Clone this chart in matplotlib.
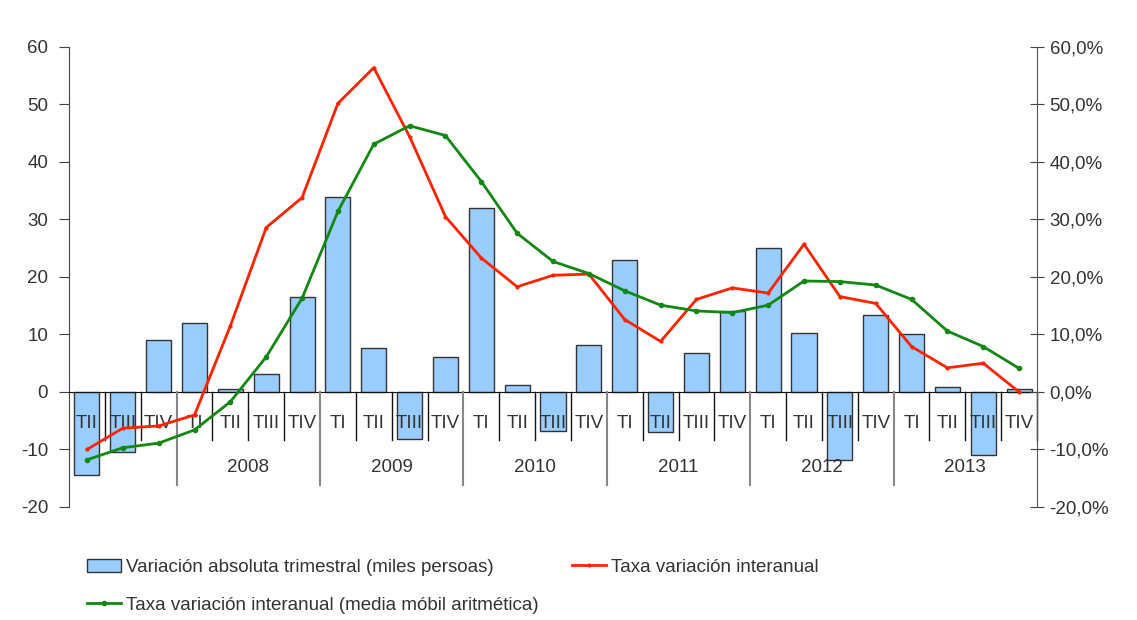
import matplotlib
matplotlib.use('Agg')
import matplotlib.pyplot as plt
from matplotlib.ticker import FuncFormatter

quarters = ['TII', 'TIII', 'TIV'] + ['TI', 'TII', 'TIII', 'TIV'] * 6
years = ['2008', '2009', '2010', '2011', '2012', '2013']

abs_var = [-14.5, -10.4, 9.0, 12.0, 0.6, 3.1, 16.5,
           33.9, 7.6, -8.2, 6.1,
           32.0, 1.2, -6.7, 8.1,
           23.0, -7.0, 6.7, 14.0,
           25.0, 10.3, -11.8, 13.4,
           10.0, 0.9, -11.0, 0.5]

taxa = [-10.0, -6.3, -5.9, -4.0, 11.5, 28.6, 33.8,
        50.2, 56.4, 44.4, 30.5,
        23.3, 18.3, 20.3, 20.5,
        12.6, 8.8, 16.1, 18.1,
        17.2, 25.7, 16.6, 15.4,
        7.9, 4.2, 5.0, 0.0]

taxa_media = [-11.8, -9.7, -8.9, -6.6, -1.7, 6.1, 16.3,
              31.4, 43.1, 46.3, 44.6,
              36.6, 27.6, 22.7, 20.6,
              17.6, 15.1, 14.1, 13.8,
              15.1, 19.3, 19.2, 18.6,
              16.1, 10.6, 7.9, 4.1]

plt.rcParams['font.family'] = ['Liberation Sans', 'DejaVu Sans']
plt.rcParams['axes.unicode_minus'] = False
txt = '#333333'
fs = 13.5

fig = plt.figure(figsize=(11.37, 6.2), dpi=100)
ax = fig.add_axes([0.0607, 0.1823, 0.8514, 0.7419])
ax2 = ax.twinx()

x = list(range(len(quarters)))
bars = ax.bar(x, abs_var, width=0.7, color='#99CCFF', edgecolor='#333333', linewidth=1.0, zorder=2)

l1, = ax2.plot(x, taxa, color='#FF2200', lw=2.0, marker='o', ms=2, zorder=3)
l2, = ax2.plot(x, taxa_media, color='#118811', lw=2.0, marker='o', ms=3, zorder=3)

for a in (ax, ax2):
    a.set_ylim(-20, 60)
    a.set_xlim(-0.5, len(quarters) - 0.5)
    a.set_yticks(range(-20, 61, 10))

ax.spines['top'].set_visible(False)
ax.spines['right'].set_visible(False)
ax.spines['bottom'].set_position(('data', 0))
ax.spines['bottom'].set_color('#111111')
ax.spines['left'].set_color('#444444')
ax.set_xticks([])
ax.tick_params(axis='y', direction='out', length=7, pad=8, colors='#444444', labelcolor=txt, labelsize=fs)

ax2.spines['top'].set_visible(False)
ax2.spines['left'].set_visible(False)
ax2.spines['bottom'].set_visible(False)
ax2.spines['right'].set_color('#555555')
ax2.tick_params(axis='y', direction='inout', length=10, pad=4, colors='#444444', labelcolor=txt, labelsize=fs)
ax2.yaxis.set_major_formatter(FuncFormatter(lambda v, p: f'{v:.1f}%'.replace('.', ',')))

# category labels and separators
for i, q in enumerate(quarters):
    ax.text(i, -5.5, q, ha='center', va='center', fontsize=fs, color=txt, zorder=4)
year_cuts = [2.5 + 4 * k for k in range(len(years))]
for i in range(len(quarters)):
    xb = i + 0.5
    if xb in year_cuts:
        ax.plot([xb, xb], [0, -16.2], color='#888888', lw=1.5, clip_on=False, zorder=4)
    else:
        ax.plot([xb, xb], [0, -8.4], color='#111111', lw=1.0, clip_on=False, zorder=4)
for xb, yr in zip(year_cuts, years):
    ax.text(xb + 2, -13.2, yr, ha='center', va='center', fontsize=fs, color=txt)

fig.legend([bars, l2, l1],
           ['Variación absoluta trimestral (miles persoas)',
            'Taxa variación interanual (media móbil aritmética)',
            'Taxa variación interanual'],
           loc='upper left', bbox_to_anchor=(0.070, 0.111), ncol=2, frameon=False,
           fontsize=fs, labelcolor=txt, handlelength=1.8, handletextpad=0.27,
           columnspacing=1.8, labelspacing=1.1, borderaxespad=0)

fig.savefig('out.png', dpi=100)
